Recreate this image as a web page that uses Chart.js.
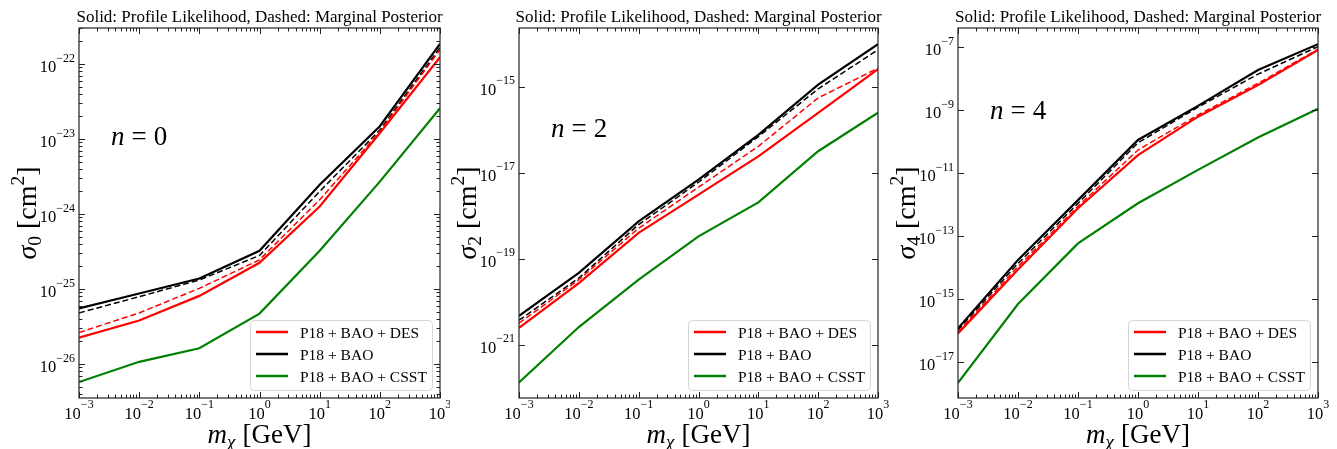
<!DOCTYPE html>
<html>
<head>
<meta charset="utf-8">
<script src="https://cdn.jsdelivr.net/npm/chart.js@4.4.0/dist/chart.umd.min.js"></script>
<style>
  body { margin: 0; background: #fff; width: 1337px; height: 449px; position: relative; overflow: hidden; }
  canvas { position: absolute; top: 0; }
</style>
</head>
<body>
<canvas id="c0" width="450" height="449" style="left:0px"></canvas>
<canvas id="c1" width="445" height="449" style="left:445px"></canvas>
<canvas id="c2" width="447" height="449" style="left:890px"></canvas>
<script>
// dark matter mass grid, GeV
const masses = [1e-3, 1e-2, 1e-1, 1, 1e1, 1e2, 1e3];
const xTickExps = [-3, -2, -1, 0, 1, 2, 3];
const legendLabels = ['P18 + BAO + DES', 'P18 + BAO', 'P18 + BAO + CSST'];
const titleText = 'Solid: Profile Likelihood, Dashed: Marginal Posterior';

// n = 0 : sigma_0 [cm^2]
const n0DesProfile   = [2.24e-26, 3.8e-26, 8.1e-26, 2.24e-25, 1.26e-24, 1.2e-23, 1.23e-22];
const n0DesPosterior = [2.63e-26, 4.8e-26, 1.02e-25, 2.45e-25, 1.55e-24, 1.26e-23, 1.55e-22];
const n0BaoProfile   = [5.5e-26, 8.7e-26, 1.38e-25, 3.24e-25, 2.45e-24, 1.48e-23, 1.86e-22];
const n0BaoPosterior = [4.8e-26, 7.9e-26, 1.32e-25, 2.8e-25, 2.0e-24, 1.32e-23, 1.66e-22];
const n0CsstProfile  = [5.75e-27, 1.07e-26, 1.62e-26, 4.7e-26, 3.24e-25, 2.7e-24, 2.57e-23];
const n0YTickExps = [-26, -25, -24, -23, -22];

// n = 2 : sigma_2 [cm^2]
const n2DesProfile   = [2.45e-21, 2.7e-20, 4.0e-19, 3.1e-18, 2.4e-17, 2.45e-16, 2.57e-15];
const n2DesPosterior = [3.16e-21, 3.24e-20, 5.1e-19, 4.6e-18, 4.1e-17, 5.5e-16, 2.7e-15];
const n2BaoProfile   = [4.7e-21, 4.7e-20, 7.4e-19, 6.9e-18, 7.6e-17, 1.12e-15, 9.8e-15];
const n2BaoPosterior = [3.7e-21, 3.55e-20, 6.2e-19, 6.0e-18, 6.9e-17, 8.9e-16, 7.2e-15];
const n2CsstProfile  = [1.32e-22, 2.57e-21, 3.24e-20, 3.3e-19, 2.04e-18, 3.16e-17, 2.5e-16];
const n2YTickExps = [-21, -19, -17, -15];

// n = 4 : sigma_4 [cm^2]
const n4DesProfile   = [8.3e-17, 8.9e-15, 7.8e-13, 3.8e-11, 6.3e-10, 6.3e-9, 8.3e-8];
const n4DesPosterior = [9.3e-17, 1.1e-14, 9.1e-13, 5.5e-11, 7.1e-10, 7.2e-9, 8.7e-8];
const n4BaoProfile   = [1.2e-16, 1.78e-14, 1.41e-12, 1.15e-10, 1.38e-9, 1.9e-8, 1.26e-7];
const n4BaoPosterior = [1.07e-16, 1.38e-14, 1.12e-12, 9.3e-11, 1.26e-9, 1.41e-8, 1.05e-7];
const n4CsstProfile  = [2.24e-18, 7.1e-16, 6.0e-14, 1.12e-12, 1.29e-11, 1.38e-10, 1.12e-9];
const n4YTickExps = [-17, -15, -13, -11, -9, -7];

const SERIF = '"Liberation Serif", "Times New Roman", serif';
const RED = '#ff0000', BLACK = '#000000', GREEN = '#008000';

function fontOf(p) {
    return (p.italic ? 'italic ' : '') + p.size + 'px ' + SERIF;
}

function richWidth(ctx, parts) {
    let w = 0;
    parts.forEach(p => {
        ctx.font = fontOf(p);
        w += ctx.measureText(p.t).width + (p.gap || 0);
    });
    return w;
}

function drawRich(ctx, parts, x, y, align) {
    const w = richWidth(ctx, parts);
    let cx = align === 'right' ? x - w : align === 'center' ? x - w / 2 : x;
    ctx.textAlign = 'left';
    ctx.textBaseline = 'alphabetic';
    parts.forEach(p => {
        ctx.font = fontOf(p);
        ctx.fillText(p.t, cx, y + (p.dy || 0));
        cx += ctx.measureText(p.t).width + (p.gap || 0);
    });
}

function expLabel(e) {
    const s = e < 0 ? '\u2212' + Math.abs(e) : String(e);
    return [{ t: '10', size: 16.5 }, { t: s, size: 12, dy: -10.5 }];
}

// frame, inward ticks, tick labels, axis titles, legend
const decorPlugin = {
    id: 'decor',
    afterDraw(chart, args, opts) {
        const ctx = chart.ctx;
        const a = chart.chartArea;
        const xs = chart.scales.x, ys = chart.scales.y;
        ctx.save();
        ctx.strokeStyle = '#222';
        ctx.fillStyle = '#000';

        // x ticks (top and bottom)
        ctx.lineWidth = 1;
        ctx.beginPath();
        xTickExps.forEach((e, i) => {
            const px = Math.round(xs.getPixelForValue(Math.pow(10, e))) + 0.5;
            ctx.moveTo(px, a.bottom); ctx.lineTo(px, a.bottom - 6);
            ctx.moveTo(px, a.top); ctx.lineTo(px, a.top + 6);
            if (i < xTickExps.length - 1) {
                for (let k = 2; k <= 9; k++) {
                    const q = Math.round(xs.getPixelForValue(k * Math.pow(10, e))) + 0.5;
                    ctx.moveTo(q, a.bottom); ctx.lineTo(q, a.bottom - 3.5);
                    ctx.moveTo(q, a.top); ctx.lineTo(q, a.top + 3.5);
                }
            }
        });
        // y ticks (left and right)
        opts.yTicks.forEach(e => {
            const py = Math.round(ys.getPixelForValue(Math.pow(10, e))) + 0.5;
            ctx.moveTo(a.left, py); ctx.lineTo(a.left + 6, py);
            ctx.moveTo(a.right, py); ctx.lineTo(a.right - 6, py);
        });
        if (opts.yMinor) {
            const lo = Math.floor(Math.log10(ys.min)), hi = Math.ceil(Math.log10(ys.max));
            for (let d = lo; d < hi; d++) {
                for (let k = 2; k <= 9; k++) {
                    const v = k * Math.pow(10, d);
                    if (v < ys.min || v > ys.max) continue;
                    const q = Math.round(ys.getPixelForValue(v)) + 0.5;
                    ctx.moveTo(a.left, q); ctx.lineTo(a.left + 3.5, q);
                    ctx.moveTo(a.right, q); ctx.lineTo(a.right - 3.5, q);
                }
            }
        }
        ctx.stroke();

        // frame
        ctx.lineWidth = 1.2;
        ctx.strokeRect(a.left, a.top, a.right - a.left, a.bottom - a.top);

        // tick labels
        xTickExps.forEach(e => {
            const px = xs.getPixelForValue(Math.pow(10, e));
            drawRich(ctx, expLabel(e), px, a.bottom + 20.5, 'center');
        });
        opts.yTicks.forEach(e => {
            const py = ys.getPixelForValue(Math.pow(10, e));
            drawRich(ctx, expLabel(e), a.left - 4, py + 8, 'right');
        });

        // title
        drawRich(ctx, [{ t: titleText, size: 17 }], (a.left + a.right) / 2, 22, 'center');

        // x axis title
        drawRich(ctx, [
            { t: 'm', size: 27, italic: true },
            { t: '\u03c7', size: 19, italic: true, dy: 5, gap: 7 },
            { t: '[GeV]', size: 27 }
        ], (a.left + a.right) / 2, a.bottom + 45, 'center');

        // y axis title (rotated)
        ctx.save();
        ctx.translate(a.left - 43, (a.top + a.bottom) / 2);
        ctx.rotate(-Math.PI / 2);
        drawRich(ctx, [
            { t: '\u03c3', size: 28, italic: true },
            { t: String(opts.n), size: 19.5, dy: 5, gap: 7 },
            { t: '[cm', size: 28 },
            { t: '2', size: 19.5, dy: -12 },
            { t: ']', size: 28 }
        ], 0, 0, 'center');
        ctx.restore();

        // n label
        drawRich(ctx, [
            { t: 'n', size: 27, italic: true, gap: 7 },
            { t: '=', size: 27, gap: 7 },
            { t: String(opts.n), size: 27 }
        ], a.left + 32, opts.nLabelY, 'left');

        // legend
        const bw = 182, bh = 70;
        const bx = a.right - 8 - bw, by = a.bottom - 8 - bh;
        ctx.beginPath();
        ctx.roundRect(bx + 0.5, by + 0.5, bw, bh, 4);
        ctx.fillStyle = 'rgba(255,255,255,0.85)';
        ctx.fill();
        ctx.strokeStyle = '#d6d6d6';
        ctx.lineWidth = 1;
        ctx.stroke();
        const colors = [RED, BLACK, GREEN];
        legendLabels.forEach((lab, i) => {
            const cy = by + 12 + i * 22;
            ctx.strokeStyle = colors[i];
            ctx.lineWidth = 2.5;
            ctx.beginPath();
            ctx.moveTo(bx + 6, cy);
            ctx.lineTo(bx + 38, cy);
            ctx.stroke();
            ctx.fillStyle = '#000';
            drawRich(ctx, [{ t: lab, size: 15.5 }], bx + 50, cy + 5.5, 'left');
        });
        ctx.restore();
    }
};

function series(ys) {
    return masses.map((m, i) => ({ x: m, y: ys[i] }));
}

function makePanel(id, opts) {
    const solid = 2.2, dashed = 1.5;
    new Chart(document.getElementById(id), {
        type: 'line',
        data: {
            datasets: [
                { data: series(opts.des), borderColor: RED, borderWidth: solid },
                { data: series(opts.desPost), borderColor: RED, borderWidth: dashed, borderDash: [6, 3] },
                { data: series(opts.bao), borderColor: BLACK, borderWidth: solid },
                { data: series(opts.baoPost), borderColor: BLACK, borderWidth: dashed, borderDash: [6, 3] },
                { data: series(opts.csst), borderColor: GREEN, borderWidth: solid }
            ]
        },
        options: {
            responsive: false,
            animation: false,
            devicePixelRatio: 1,
            layout: { padding: { top: 28, right: opts.padRight, bottom: 0, left: 0 } },
            elements: { point: { radius: 0 }, line: { tension: 0, fill: false } },
            scales: {
                x: {
                    type: 'logarithmic', min: 1e-3, max: 1e3,
                    grid: { display: false }, border: { display: false },
                    ticks: { display: false },
                    afterFit: s => { s.height = 51; }
                },
                y: {
                    type: 'logarithmic', min: opts.yMin, max: opts.yMax,
                    grid: { display: false }, border: { display: false },
                    ticks: { display: false },
                    afterFit: s => { s.width = opts.padLeft; }
                }
            },
            plugins: {
                legend: { display: false },
                tooltip: { enabled: false },
                decor: { n: opts.n, yTicks: opts.yTicks, yMinor: opts.yMinor, nLabelY: opts.nLabelY }
            }
        },
        plugins: [decorPlugin]
    });
}

makePanel('c0', {
    n: 0, des: n0DesProfile, desPost: n0DesPosterior, bao: n0BaoProfile, baoPost: n0BaoPosterior, csst: n0CsstProfile,
    yMin: Math.pow(10, -26.453), yMax: Math.pow(10, -21.52), yTicks: n0YTickExps, yMinor: true,
    padLeft: 79, padRight: 10, nLabelY: 145
});
makePanel('c1', {
    n: 2, des: n2DesProfile, desPost: n2DesPosterior, bao: n2BaoProfile, baoPost: n2BaoPosterior, csst: n2CsstProfile,
    yMin: Math.pow(10, -22.24), yMax: Math.pow(10, -13.635), yTicks: n2YTickExps, yMinor: false,
    padLeft: 74, padRight: 12, nLabelY: 137
});
makePanel('c2', {
    n: 4, des: n4DesProfile, desPost: n4DesPosterior, bao: n4BaoProfile, baoPost: n4BaoPosterior, csst: n4CsstProfile,
    yMin: Math.pow(10, -18.13), yMax: Math.pow(10, -6.387), yTicks: n4YTickExps, yMinor: false,
    padLeft: 68, padRight: 19, nLabelY: 119
});
</script>
</body>
</html>
